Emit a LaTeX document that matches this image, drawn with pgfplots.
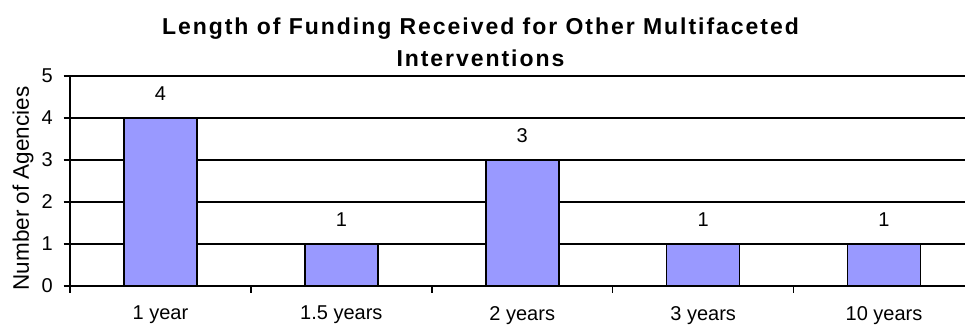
\documentclass[border=0pt]{standalone}
\usepackage{pgfplots}
\pgfplotsset{compat=1.18}
\usepackage{fontspec}
\setmainfont{Liberation Sans}
\newfontfamily\titlefont[LetterSpace=8.5]{Liberation Sans}
\definecolor{barblue}{HTML}{9999FF}
\begin{document}
\begin{tikzpicture}
\useasboundingbox (0,0) rectangle (965pt,327pt);
\clip (0,0) rectangle (965pt,327pt);
\begin{axis}[
  at={(70pt,41pt)}, anchor=south west,
  scale only axis, width=904.5pt, height=210pt,
  xmin=-0.5, xmax=4.5, ymin=0, ymax=5,
  axis x line*=bottom, axis y line*=left,
  axis line style={-, black, line width=1.5pt},
  ybar, bar width=73pt,
  xtick={0,1,2,3,4},
  xticklabels={1 year,1.5 years,2 years,3 years,10 years},
  minor xtick={-0.5,0.5,1.5,2.5,3.5,4.5},
  ytick={0,1,2,3,4,5},
  ymajorgrids,
  major grid style={black, line width=1.5pt},
  tick align=outside,
  major tick length=6.5pt, minor tick length=6.5pt,
  every tick/.style={black, line width=1.5pt},
  major x tick style={draw=none},
  /pgf/number format/assume math mode=true,
  tick label style={font=\fontsize{20pt}{24pt}\selectfont},
  xticklabel style={anchor=north, inner sep=0pt, yshift=-13.5pt},
  yticklabel style={anchor=east, inner sep=0pt, xshift=-10.5pt},
  ylabel={Number of Agencies},
  every axis y label/.style={at={(axis description cs:-0.052,0.464)},
    rotate=90, anchor=center, inner sep=0pt,
    font=\fontsize{22.5pt}{26pt}\selectfont},
  title={Length of Funding Received for Other Multifaceted\\Interventions},
  every axis title/.style={at={(axis description cs:0.4538,1.2795)},
    anchor=north, inner sep=0pt, align=center,
    font=\titlefont\bfseries\fontsize{23pt}{32pt}\selectfont},
  nodes near coords,
  every node near coord/.append style={font=\fontsize{20pt}{24pt}\selectfont,
    inner sep=0pt, anchor=south, yshift=17pt},
]
\addplot[fill=barblue, draw=black, line width=1.6pt]
  coordinates {(0,4) (1,1) (2,3) (3,1) (4,1)};
\end{axis}
\end{tikzpicture}
\end{document}
